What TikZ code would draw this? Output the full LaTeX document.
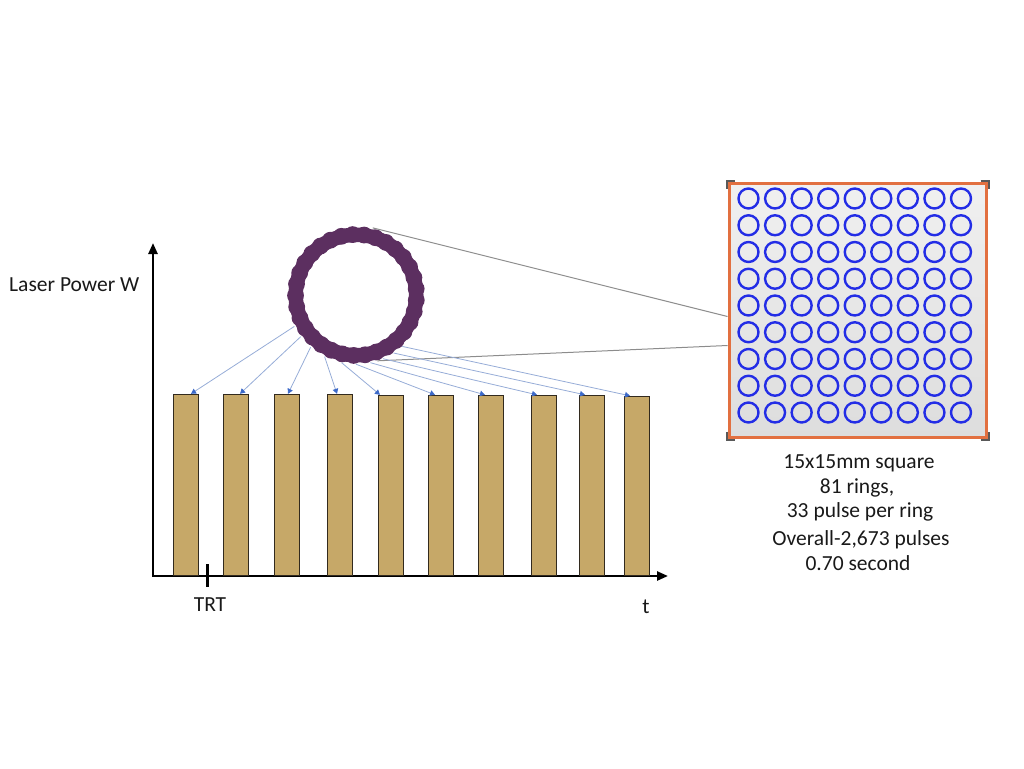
\documentclass[tikz,border=0pt]{standalone}
\usepackage{fontspec}
\setmainfont{Carlito}
\usetikzlibrary{arrows.meta,calc}
\definecolor{ringpurple}{RGB}{92,47,96}
\definecolor{bartan}{RGB}{198,168,104}
\definecolor{barline}{RGB}{50,42,30}
\definecolor{arrline}{RGB}{150,172,215}
\definecolor{arrhead}{RGB}{60,105,200}
\definecolor{sqorange}{RGB}{226,112,64}
\definecolor{cblue}{RGB}{35,45,230}
\definecolor{txt}{RGB}{25,25,25}
\tikzset{
  bar/.style={draw=barline, line width=1.2pt, fill=bartan, anchor=south west, minimum width=24.5pt, inner sep=0pt},
  parrow/.style={draw=arrline, line width=0.8pt, -{Triangle[length=5pt,width=5.5pt,color=arrhead]}},
  axis/.style={line width=2.4pt, black},
  zoomline/.style={draw=gray!90, line width=1pt},
  lbl/.style={font=\fontsize{21.5}{25}\selectfont, text=txt, inner sep=0pt},
  mini/.style={draw=cblue, line width=2.4pt},
  handle/.style={draw=gray!70!black, line width=2pt},
}
\begin{document}
\begin{tikzpicture}[x=1pt,y=-1pt]
\useasboundingbox (0,0) rectangle (1024,768);
% axes
\coordinate (O) at (153,576);
\coordinate (ytop) at (153,243);
\coordinate (xend) at (668,576);
\draw[axis, {Triangle[length=11pt,width=9pt]}-{Triangle[length=11pt,width=9pt]}] (ytop) -- (O) -- (xend);
\coordinate (tk1) at (207,564);
\coordinate (tk2) at (207,587);
\draw[line width=3pt] (tk1) -- (tk2);
\node[lbl, anchor=base west] (ylab) at (9,291) {Laser Power W};
\node[lbl, anchor=base] (trt) at (210,611) {TRT};
\node[lbl, anchor=base] (tlab) at (646,613) {t};
% bars
\node[bar, minimum height=181pt] (b1) at (173,576) {};
\node[bar, minimum height=181pt] (b2) at (223,576) {};
\node[bar, minimum height=181pt] (b3) at (274,576) {};
\node[bar, minimum height=181pt] (b4) at (327,576) {};
\node[bar, minimum height=180pt] (b5) at (378,576) {};
\node[bar, minimum height=180pt] (b6) at (428,576) {};
\node[bar, minimum height=180pt] (b7) at (478,576) {};
\node[bar, minimum height=180pt] (b8) at (531,576) {};
\node[bar, minimum height=180pt] (b9) at (579,576) {};
\node[bar, minimum height=179pt] (b10) at (624,576) {};
% ring
\node[circle, minimum size=138pt, inner sep=0pt] (ring) at (356,295) {};
\fill[ringpurple, even odd rule] (ring.center) circle[radius=67.5] (ring.center) circle[radius=53];
\foreach \i in {0,...,32} {
  \fill[ringpurple] ($(ring.center)+({\i*360/33+5}:60.5)$) circle[radius=8.4];
}
% zoom square
\node[draw=sqorange, line width=3pt, minimum width=257pt, minimum height=254pt, inner sep=0pt,
      top color={rgb,255:red,240;green,240;blue,240}, bottom color={rgb,255:red,221;green,221;blue,221}] (sq) at (857.5,310) {};
\draw[zoomline] (ring.76) -- ($(sq.north west)+(0,135)$);
\draw[zoomline] (ring.288) -- ($(sq.north west)+(0,164)$);
% arrows from ring to bars
\draw[parrow] (ring.207) -- ($(b1.north west)+(18,0)$);
\draw[parrow] (ring.217) -- ($(b2.north west)+(17,0)$);
\draw[parrow] (ring.229) -- ($(b3.north west)+(14,0)$);
\draw[parrow] (ring.243) -- ($(b4.north west)+(10,0)$);
\draw[parrow] (ring.258) -- ($(b5.north west)+(2,0)$);
\draw[parrow] (ring.270) -- ($(b6.north west)+(7,0)$);
\draw[parrow] (ring.282) -- ($(b7.north west)+(7,0)$);
\draw[parrow] (ring.293) -- ($(b8.north west)+(6,0)$);
\draw[parrow] (ring.303) -- ($(b9.north west)+(6,0)$);
\draw[parrow] (ring.312) -- ($(b10.north west)+(6,0)$);
% grid of rings
\foreach \r in {0,...,8} {
  \foreach \c in {0,...,8} {
    \draw[mini] ($(sq.north west)+(21+\c*26.56,17+\r*26.75)$) circle[radius=10];
  }
}
% corner handles
\draw[handle] ($(sq.north west)+(-1,7)$) -- ($(sq.north west)+(-1,-1)$) -- ($(sq.north west)+(7,-1)$);
\draw[handle] ($(sq.north east)+(-7,-1)$) -- ($(sq.north east)+(1,-1)$) -- ($(sq.north east)+(1,7)$);
\draw[handle] ($(sq.south west)+(-1,-7)$) -- ($(sq.south west)+(-1,1)$) -- ($(sq.south west)+(7,1)$);
\draw[handle] ($(sq.south east)+(-7,1)$) -- ($(sq.south east)+(1,1)$) -- ($(sq.south east)+(1,-7)$);
% text block
\node[lbl, anchor=base] (l1) at (859,468) {15x15mm square};
\node[lbl, anchor=base] (l2) at (857,493) {81 rings,};
\node[lbl, anchor=base] (l3) at (860,517) {33 pulse per ring};
\node[lbl, anchor=base] (l4) at (861,545) {Overall-2,673 pulses};
\node[lbl, anchor=base] (l5) at (858,570) {0.70 second};
\end{tikzpicture}
\end{document}
